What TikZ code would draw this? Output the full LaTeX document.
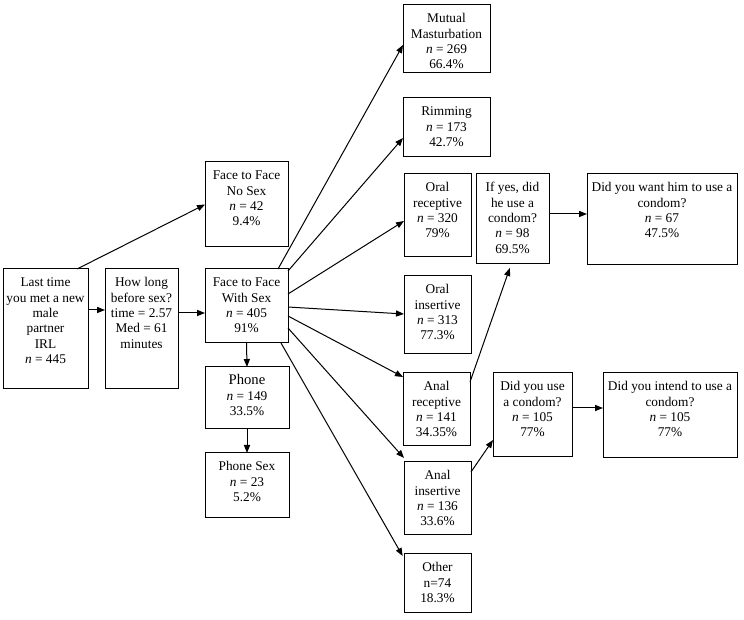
\documentclass[tikz,border=0pt]{standalone}
\usepackage{fontspec}
\setmainfont{Liberation Serif}
\usetikzlibrary{arrows.meta}
\tikzset{
  boxst/.style={draw=black, line width=0.75pt, inner sep=0pt, outer sep=0pt, fill=white},
  arr/.style={line width=0.75pt, -{Triangle[length=6pt,width=4.6pt]}},
}
\newcommand\mybox[6]{%
  \pgfmathsetmacro\mybw{(#4-#2)*0.75}%
  \pgfmathsetmacro\mybh{(#5-#3)*0.75}%
  \node[boxst] (#1) at ({(#2+#4)/2},{(#3+#5)/2})
    {\parbox[c][\mybh pt][t]{\mybw pt}{\fontsize{10pt}{11.5pt}\selectfont\centering\rule{0pt}{13.5pt}#6\par}};}
\newcommand\nn{\textit{n}}
\begin{document}
\begin{tikzpicture}[x=0.75pt,y=-0.75pt]
\useasboundingbox (0,0) rectangle (744,620);
\mybox{L}{3}{269}{88}{389}{Last time\\ you met a new\\ male\\ partner\\ IRL\\ \nn{} = 445}
\mybox{H}{105}{269}{178}{389}{How long\\ before sex?\\ time = 2.57\\ Med = 61\\ minutes}
\mybox{NS}{205}{162}{288}{247}{Face to Face\\ No Sex\\ \nn{} = 42\\ 9.4\%}
\mybox{WS}{205}{269}{288}{343}{Face to Face\\ With Sex\\ \nn{} = 405\\ 91\%}
\mybox{P}{205}{367}{289}{429}{{\fontsize{11pt}{11.5pt}\selectfont Phone}\\ \nn{} = 149\\ 33.5\%}
\mybox{PS}{205}{453}{289}{518}{Phone Sex\\ \nn{} = 23\\ 5.2\%}
\mybox{MM}{403}{5}{490}{73}{Mutual\\ Masturbation\\ \nn{} = 269\\ 66.4\%}
\mybox{R}{403}{98}{490}{157}{Rimming\\ \nn{} = 173\\ 42.7\%}
\mybox{OR}{404}{174}{471}{257}{Oral\\ receptive\\ \nn{} = 320\\ 79\%}
\mybox{IY}{476}{174}{549}{264}{If yes, did\\ he use a\\ condom?\\ \nn{} = 98\\ 69.5\%}
\mybox{DW}{587}{174}{737}{265}{Did you want him to use a\\ condom?\\ \nn{} = 67\\ 47.5\%}
\mybox{OI}{404}{276}{471}{354}{Oral\\ insertive\\ \nn{} = 313\\ 77.3\%}
\mybox{AR}{403}{373}{470}{446}{Anal\\ receptive\\ \nn{} = 141\\ 34.35\%}
\mybox{AI}{404}{462}{471}{535}{Anal\\ insertive\\ \nn{} = 136\\ 33.6\%}
\mybox{O}{404}{554}{471}{613}{Other\\ n=74\\ 18.3\%}
\mybox{DU}{493}{373}{572}{457}{Did you use\\ a condom?\\ \nn{} = 105\\ 77\%}
\mybox{DI}{603}{373}{737}{458}{Did you intend to use a\\ condom?\\ \nn{} = 105\\ 77\%}
% connectors
\draw[arr] ([xshift=-8.25pt]L.north east) -- (NS.west);
\draw[arr] ([yshift=14.25pt]L.east) -- ([yshift=14.25pt]H.west);
\draw[arr] ([yshift=12pt]H.east) -- ([yshift=12pt]H.east -| WS.west);
\draw[arr] (WS.south) -- (P.north);
\draw[arr] (P.south) -- (PS.north);
\draw[arr] ([xshift=-7.5pt]WS.north east) -- ([yshift=-30pt]MM.north west);
\draw[arr] ([yshift=-1.5pt]WS.north east) -- ([yshift=-30pt]R.north west);
\draw[arr] ([yshift=-18.75pt]WS.north east) -- ([yshift=-35.25pt]OR.north west);
\draw[arr] ([yshift=-28.5pt]WS.north east) -- ([yshift=-28.5pt]OI.north west);
\draw[arr] ([yshift=-35.25pt]WS.north east) -- ([yshift=-3pt]AR.north west);
\draw[arr] ([yshift=-44.25pt]WS.north east) -- ([yshift=3pt]AI.north west);
\draw[arr] ([xshift=-5.25pt]WS.south east) -- ([xshift=-1pt,yshift=-1.5pt]O.north west);
\draw[arr] ([yshift=-6.75pt]AR.north east) -- ([xshift=-2pt,yshift=-3pt]IY.south);
\draw[arr] ([yshift=-7.5pt]AI.north east) -- ([yshift=12.75pt]DU.south west);
\draw[arr] ([yshift=3.75pt]IY.east) -- ([yshift=3.75pt]IY.east -| DW.west);
\draw[arr] ([yshift=5.25pt]DU.east) -- ([yshift=5.25pt]DU.east -| DI.west);
\end{tikzpicture}
\end{document}
